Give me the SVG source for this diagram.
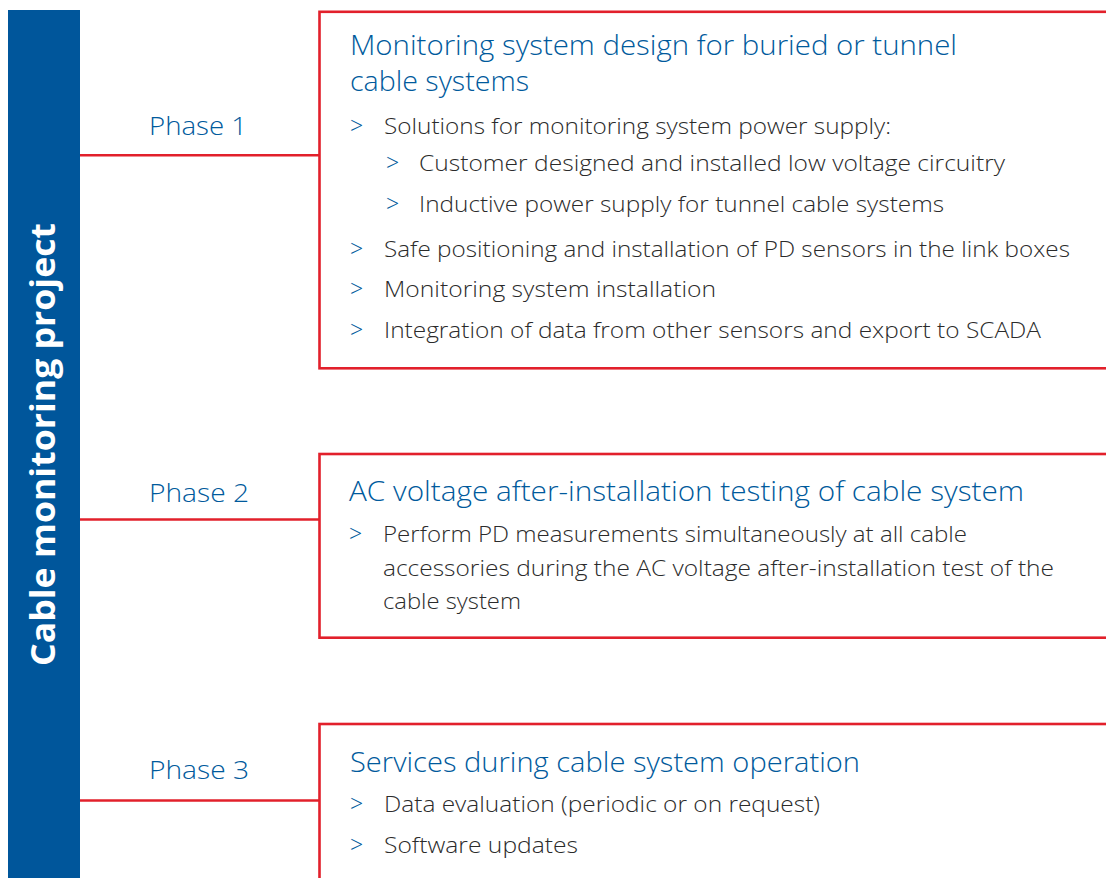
<svg xmlns="http://www.w3.org/2000/svg" width="1106" height="878" viewBox="0 0 1106 878">
<style>
.box{fill:none;stroke:#E2202B;stroke-width:2.6}
.conn{fill:none;stroke:#E2202B;stroke-width:2.6}
.phase{font-family:"Open Sans","Noto Sans",sans-serif;font-size:26px;font-weight:300;fill:#005A9C}
.title{font-family:"Open Sans","Noto Sans",sans-serif;font-size:27px;font-weight:300;fill:#005A9C}
.body{font-family:"Open Sans","Noto Sans",sans-serif;font-size:22px;font-weight:300;fill:#2B2B2B}
.gt{font-family:"Open Sans","Noto Sans",sans-serif;font-size:23px;font-weight:300;fill:#005A9C}
.side{font-family:"Open Sans","Noto Sans",sans-serif;font-size:34px;font-weight:bold;fill:#FFFFFF}
</style>
<rect width="1106" height="878" fill="#FFFFFF"/>
<g id="project">
<rect x="8" y="10" width="72" height="880" fill="#00569B"/>
<text class="side" transform="translate(55,666) rotate(-90)" textLength="443" lengthAdjust="spacingAndGlyphs">Cable monitoring project</text>
</g>
<g id="connectors">
<line class="conn" x1="80" y1="155.3" x2="319.5" y2="155.3"/>
<line class="conn" x1="80" y1="519.5" x2="319.5" y2="519.5"/>
<line class="conn" x1="80" y1="800.5" x2="319.5" y2="800.5"/>
</g>
<g id="phase1">
<text class="phase" x="149" y="135" textLength="98" lengthAdjust="spacingAndGlyphs">Phase 1</text>
<rect class="box" x="319.5" y="11.8" width="820" height="356.5"/>
<text class="title" x="350" y="55" textLength="607" lengthAdjust="spacingAndGlyphs">Monitoring system design for buried or tunnel</text>
<text class="title" x="350" y="91" textLength="179" lengthAdjust="spacingAndGlyphs">cable systems</text>
<text class="gt" x="350" y="134">&gt;</text><text class="body" x="384" y="134" textLength="507" lengthAdjust="spacingAndGlyphs">Solutions for monitoring system power supply:</text>
<text class="gt" x="386" y="171">&gt;</text><text class="body" x="419" y="171" textLength="586" lengthAdjust="spacingAndGlyphs">Customer designed and installed low voltage circuitry</text>
<text class="gt" x="386" y="212">&gt;</text><text class="body" x="419" y="212" textLength="525" lengthAdjust="spacingAndGlyphs">Inductive power supply for tunnel cable systems</text>
<text class="gt" x="350" y="257">&gt;</text><text class="body" x="384" y="257" textLength="686" lengthAdjust="spacingAndGlyphs">Safe positioning and installation of PD sensors in the link boxes</text>
<text class="gt" x="350" y="297">&gt;</text><text class="body" x="384" y="297" textLength="332" lengthAdjust="spacingAndGlyphs">Monitoring system installation</text>
<text class="gt" x="350" y="338">&gt;</text><text class="body" x="384" y="338" textLength="657" lengthAdjust="spacingAndGlyphs">Integration of data from other sensors and export to SCADA</text>
</g>
<g id="phase2">
<text class="phase" x="149" y="502" textLength="100" lengthAdjust="spacingAndGlyphs">Phase 2</text>
<rect class="box" x="319.5" y="454" width="820" height="183.7"/>
<text class="title" x="349" y="501" textLength="675" lengthAdjust="spacingAndGlyphs">AC voltage after-installation testing of cable system</text>
<text class="gt" x="349" y="542">&gt;</text><text class="body" x="383" y="542" textLength="584" lengthAdjust="spacingAndGlyphs">Perform PD measurements simultaneously at all cable</text>
<text class="body" x="383" y="576" textLength="671" lengthAdjust="spacingAndGlyphs">accessories during the AC voltage after-installation test of the</text>
<text class="body" x="383" y="609" textLength="138" lengthAdjust="spacingAndGlyphs">cable system</text>
</g>
<g id="phase3">
<text class="phase" x="149" y="779" textLength="100" lengthAdjust="spacingAndGlyphs">Phase 3</text>
<rect class="box" x="319.5" y="724" width="820" height="200"/>
<text class="title" x="350" y="772" textLength="510" lengthAdjust="spacingAndGlyphs">Services during cable system operation</text>
<text class="gt" x="350" y="812">&gt;</text><text class="body" x="384" y="812" textLength="436" lengthAdjust="spacingAndGlyphs">Data evaluation (periodic or on request)</text>
<text class="gt" x="350" y="853">&gt;</text><text class="body" x="384" y="853" textLength="194" lengthAdjust="spacingAndGlyphs">Software updates</text>
</g>
</svg>
